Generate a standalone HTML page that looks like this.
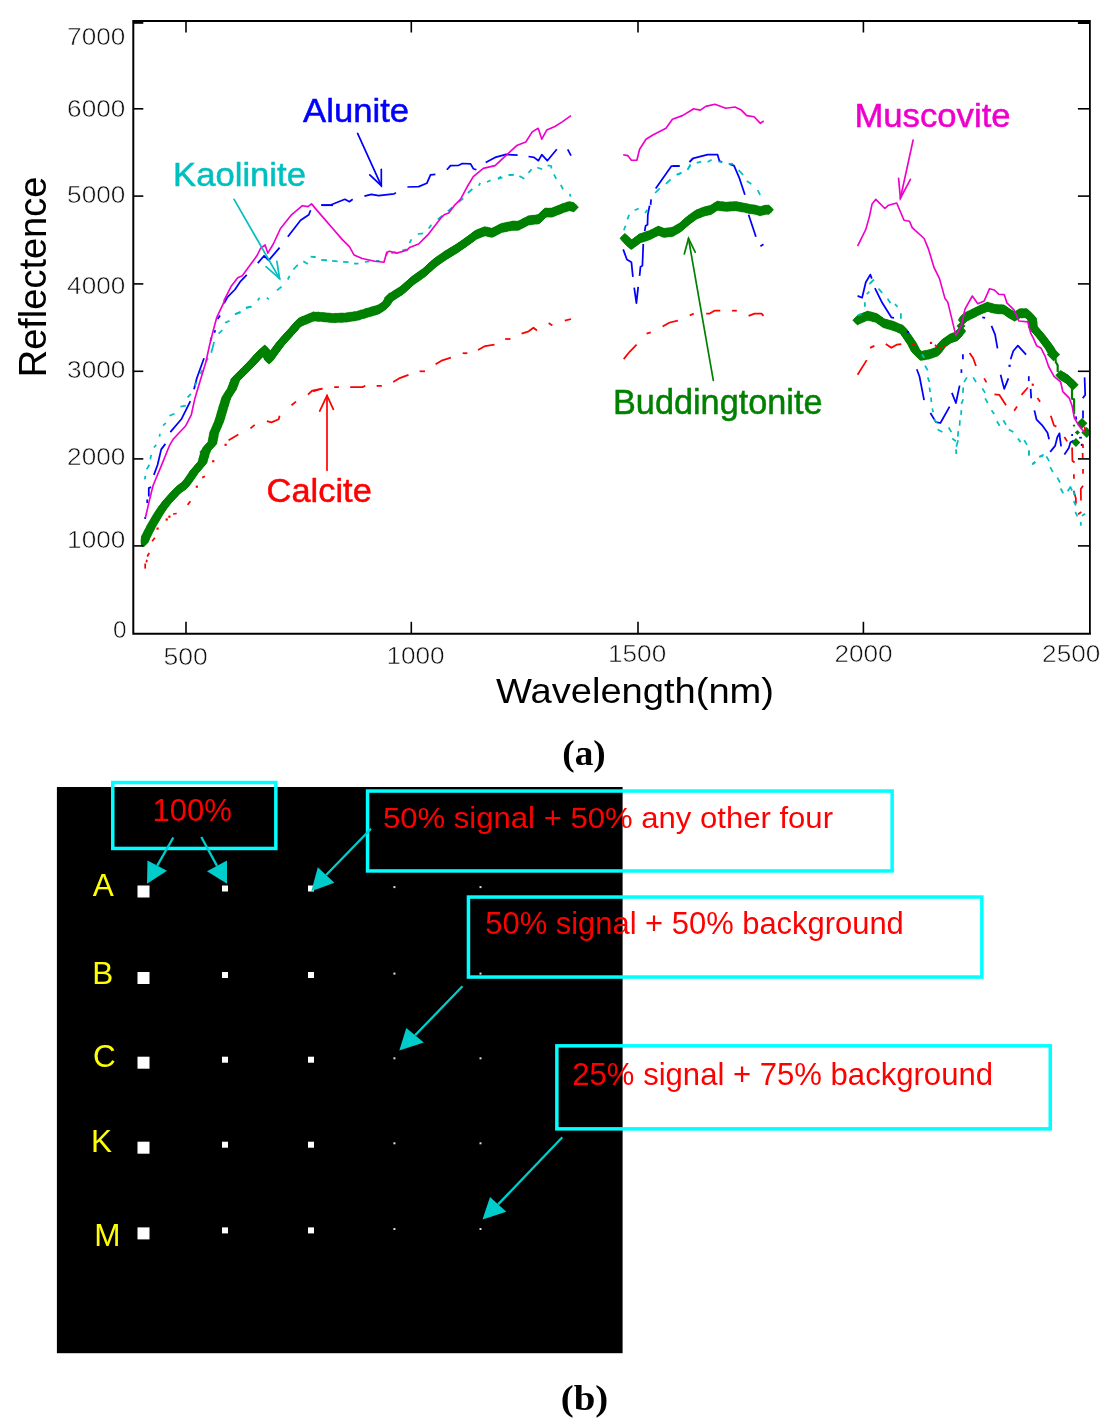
<!DOCTYPE html>
<html lang="en"><head><meta charset="utf-8"><title>Figure</title>
<style>html,body{margin:0;padding:0;background:#fff}svg{display:block}text{font-family:"Liberation Sans",sans-serif}.ser{font-family:"Liberation Serif",serif;font-weight:bold}</style>
</head><body>
<svg width="1103" height="1427" viewBox="0 0 1103 1427">
<rect width="1103" height="1427" fill="#fff"/>
<g font-size="24.4" fill="#111" stroke="#fff" stroke-width="0.55">
<text x="125.3" y="45.2" text-anchor="end" textLength="58.2" lengthAdjust="spacingAndGlyphs">7000</text>
<text x="125.3" y="116.5" text-anchor="end" textLength="58.2" lengthAdjust="spacingAndGlyphs">6000</text>
<text x="125.3" y="202.8" text-anchor="end" textLength="58.2" lengthAdjust="spacingAndGlyphs">5000</text>
<text x="125.3" y="293.6" text-anchor="end" textLength="58.2" lengthAdjust="spacingAndGlyphs">4000</text>
<text x="125.3" y="377.5" text-anchor="end" textLength="58.2" lengthAdjust="spacingAndGlyphs">3000</text>
<text x="125.3" y="465" text-anchor="end" textLength="58.2" lengthAdjust="spacingAndGlyphs">2000</text>
<text x="125.3" y="548" text-anchor="end" textLength="58.2" lengthAdjust="spacingAndGlyphs">1000</text>
<text x="126.6" y="637.6" text-anchor="end">0</text>
<text x="185.6" y="665.3" text-anchor="middle" textLength="44.3" lengthAdjust="spacingAndGlyphs">500</text>
<text x="415.5" y="663.5" text-anchor="middle" textLength="58.2" lengthAdjust="spacingAndGlyphs">1000</text>
<text x="637.1" y="661.6" text-anchor="middle" textLength="58.2" lengthAdjust="spacingAndGlyphs">1500</text>
<text x="863.5" y="661.6" text-anchor="middle" textLength="58.2" lengthAdjust="spacingAndGlyphs">2000</text>
<text x="1071.2" y="661.5" text-anchor="middle" textLength="58.2" lengthAdjust="spacingAndGlyphs">2500</text>
</g>
<text transform="translate(46.4,377.3) rotate(-90)" font-size="38" fill="#000" textLength="200.7" lengthAdjust="spacingAndGlyphs">Reflectence</text>
<text x="496" y="703" font-size="35.7" fill="#000" textLength="278" lengthAdjust="spacingAndGlyphs">Wavelength(nm)</text>
<g fill="none" stroke="#0000ff" stroke-width="1.75" stroke-linejoin="round" stroke-linecap="butt" >
<polyline points="145.2,519 145.2,517"/>
<polyline points="147.2,503 147.2,499.5"/>
<polyline points="148.8,496.4 148.8,488.1 151.1,487.1"/>
<polyline points="153.9,474.9 157.6,464.8 161.2,449.4 165.4,443.9"/>
<polyline points="170.3,432.1 181.3,419.3 190.4,401.1"/>
<polyline points="194,389.3 196.8,378.3 204,358.3"/>
<polyline points="210.4,341 211.7,337.3"/>
<polyline points="214.4,332.8 215.3,330.1"/>
<polyline points="217.7,319.1 220.1,315.5"/>
<polyline points="224.1,303.2 227.7,296.8 235,289.5 240.5,281.3 246.8,274.9"/>
<polyline points="257.8,263.1 264.1,255.8 268.7,260.4 279.6,247.6"/>
<polyline points="287.8,236.7 300.6,220.3 308.8,214.8 310.6,210.3"/>
<polyline points="321.5,205.2 333,205.2"/>
<polyline points="321.2,205.2 331.2,204.8 344.9,199.3 349.4,201.7 352.7,199.3"/>
<polyline points="364.4,196.2 371.3,194.4 378.6,195.7 394.1,193.9 395.9,192.6"/>
<polyline points="407.4,187 418.6,186.6 426.8,183.3 430.5,174.8 435.4,174.4"/>
<polyline points="446.9,169.8 450.5,165.6 458.7,165.3 462.4,163.5 470.6,163.8 473.3,168.7 476.4,169.8"/>
<polyline points="485.7,162.4 495.1,157.4 506.1,154.4 517.6,155.1"/>
<polyline points="528.5,156.5 534,157.4 538.5,160.7 541.8,154.7 547.3,160.7 556.8,149.3"/>
<polyline points="567.7,149.3 571,155.6"/>
<polyline points="623.2,249.4 626.9,259.5 631.4,262.2 632.9,276.8"/>
<polyline points="634.2,287.7 636.4,303.2 638.2,286.8"/>
<polyline points="639.6,275.8 640.5,266.7 642.4,265.8 643.3,244"/>
<polyline points="644.7,231.2 645.6,225.8 647.5,224.8 647.8,214.8 649.6,205.7"/>
<polyline points="650.6,204.8 651.1,199.3"/>
<polyline points="655.7,188.4 671.5,166 679.7,166"/>
<polyline points="689.7,162 693,158.4"/>
<polyline points="673,166 679.4,166"/>
<polyline points="689.4,162 693,158.4 707.6,154.7 717.6,154.7 719.4,161.1 722.2,162"/>
<polyline points="729.5,164.2 734,165.6 739.5,178.4 744.9,194.8"/>
<polyline points="748.6,214.8 755.9,236.7"/>
<polyline points="760.4,246.2 763.5,244.3"/>
<polyline points="857.6,295.9 862.1,297.7 865.8,282.2 870.3,274.6 871.8,278.6"/>
<polyline points="874.9,288.2 882.2,302.8 891.3,317.3 894,317.9"/>
<polyline points="916.8,369.3 919.5,376.5 924.1,400.2"/>
<polyline points="930.4,413 935.9,422.1 940.4,423 949.6,406.6"/>
<polyline points="951.9,392.9 955.9,403 959.6,385.6"/>
<polyline points="961.4,372.9 961.4,369.3"/>
<polyline points="962.9,359.2 962.9,354.3"/>
<polyline points="982.3,317.3 985.1,317.9"/>
<polyline points="991.5,325.9 995.1,334.6 997.5,348.3"/>
<polyline points="1000.6,374.7 1004.2,388.9 1008.4,378.4"/>
<rect x="1008.5" y="364.7" width="2.2" height="2.2" fill="#0000ff" stroke="none"/>
<polyline points="1010.6,359.2 1013.3,351 1017.9,345.6 1026.1,354.7"/>
<polyline points="1028.8,376.2 1028.8,381.1"/>
<polyline points="1030.6,388.9 1031.2,398.4"/>
<polyline points="1034.4,410.4 1036.6,419.7 1042,425.1 1047.5,432.8 1049.1,439.3"/>
<polyline points="1050.2,451.9 1055.1,445.9 1057.3,437.2 1059.5,433.3 1060,438.3 1061.1,446.4"/>
<polyline points="1064.4,454.6 1068.8,448.1 1070.4,442.6 1073.7,440.4"/>
<polyline points="1079.2,437.7 1081.9,437.7"/>
<rect x="1080.8" y="443.8" width="2.2" height="2.2" fill="#0000ff" stroke="none"/>
<polyline points="1083,410.4 1083,418.6"/>
<polyline points="1075.9,416.4 1076.4,419.7"/>
<polyline points="1072.1,433.9 1072.1,436.1"/>
<polyline points="1084.6,377.4 1085.2,394.9 1082.7,398.2"/>
</g>
<defs><marker id="gd" markerWidth="12" markerHeight="12" refX="6" refY="6" markerUnits="userSpaceOnUse" orient="0"><path d="M6,0.7999999999999998 L11.2,6 L6,11.2 L0.7999999999999998,6 Z" fill="#008000"/></marker><clipPath id="gc"><rect x="140.9" y="0" width="948.6" height="546.9"/></clipPath></defs>
<g fill="none" stroke="#008000" stroke-width="7" stroke-linejoin="round" stroke-linecap="round" marker-start="url(#gd)" marker-mid="url(#gd)" marker-end="url(#gd)" clip-path="url(#gc)">
<polyline points="143.4,542.3 143.9,541.3 144.4,540.2 144.9,539.2 145.3,538.1 145.8,537.1 146.3,536 146.8,535 147.4,533.9 148,532.8 148.5,531.6 149.1,530.5 149.7,529.4 150.3,528.3 150.8,527.1 151.4,526 152,524.9 152.6,523.9 153.2,522.9 153.8,521.9 154.4,520.9 155,519.9 155.5,519 156.1,518 156.7,517 157.3,516 157.9,515 158.5,514 159.2,513 159.8,512 160.4,511.1 161.1,510.1 161.8,509.1 162.4,508.1 163.1,507.1 163.9,506.2 164.6,505.2 165.3,504.3 166,503.3 166.8,502.4 167.5,501.4 168.3,500.6 169.1,499.7 169.9,498.9 170.6,498 171.4,497.2 172.2,496.3 173,495.5 173.8,494.7 174.6,493.8 175.4,493 176.2,492.1 177,491.3 177.8,490.4 178.6,489.6 179.5,488.9 180.4,488.3 181.3,487.6 182.3,487 183.2,486.3 184.1,485.7 185,485 185.7,484 186.5,483 187.2,482.1 187.9,481.1 188.7,480.1 189.4,479.1 190.1,478.1 190.8,477 191.5,476 192.2,474.9 192.9,473.9 193.6,472.8 194.3,471.8 195.1,470.9 195.9,469.9 196.8,468.9 197.6,468 198.4,467.1 199.2,466.1 200,465.2 200.9,464.2 201.7,463.2 202.5,462.3 202.8,461.1 203.1,460 203.4,458.8 203.8,457.6 204.1,456.5 204.4,455.3 204.7,454.2 205,453 205.5,451.9 206,450.9 206.6,449.8 207.1,448.8 207.6,447.7 208.5,446.9 209.4,446 210.4,445.2 211.3,444.3 212.2,443.5 212.4,442.3 212.7,441.1 212.9,439.9 213.1,438.7 213.4,437.4 213.6,436.2 213.8,435 214.1,433.8 214.3,432.6 214.8,431.5 215.2,430.5 215.7,429.4 216.2,428.3 216.6,427.2 217.1,426.2 217.5,425.1 218,424 218.5,422.9 218.9,421.9 219.4,420.8 219.7,419.6 220.1,418.4 220.4,417.3 220.8,416.1 221.1,414.9 221.5,413.7 221.8,412.5 222.2,411.3 222.5,410.2 222.9,409 223.2,407.8 223.6,406.6 223.9,405.5 224.3,404.3 224.7,403.1 225,402 225.4,400.8 225.8,399.6 226.1,398.5 226.5,397.3 227.2,396.2 227.9,395.2 228.6,394.1 229.2,393.1 229.9,392.1 230.6,391 231.3,389.9 232,388.9 232.4,387.7 232.8,386.6 233.3,385.4 233.7,384.2 234.1,383.1 234.6,381.9 235,380.8 235.4,379.6 236.2,378.8 237.1,377.9 237.9,377.1 238.7,376.3 239.6,375.4 240.4,374.6 241.2,373.8 242.1,372.9 242.9,372.1 243.8,371.2 244.6,370.4 245.5,369.5 246.3,368.7 247.1,367.9 248,367 248.8,366.2 249.7,365.3 250.5,364.5 251.4,363.6 252.2,362.8 253,361.8 253.9,360.9 254.7,359.9 255.6,359 256.4,358 257.3,357.1 258.1,356.1 258.9,355.3 259.8,354.5 260.6,353.7 261.5,353 262.3,352.2 263.1,351.4 264,350.6 264.8,349.8 265.3,350.9 265.7,351.9 266.2,353 266.7,354.1 267.1,355.1 267.6,356.2 268.1,357.3 268.5,358.3 269,359.4 269.7,358.4 270.4,357.4 271.1,356.4 271.8,355.5 272.5,354.5 273.2,353.5 273.9,352.6 274.6,351.6 275.3,350.7 276,349.7 276.7,348.8 277.4,347.8 278.1,346.9 278.8,345.9 279.5,345 280.2,344 280.9,343.1 281.7,342.2 282.5,341.4 283.2,340.5 284,339.7 284.8,338.8 285.6,338 286.4,337.1 287.1,336.2 287.9,335.4 288.7,334.5 289.5,333.7 290.2,332.8 291,332 291.8,331.1 292.6,330.2 293.3,329.4 294.1,328.5 294.8,327.6 295.6,326.8 296.4,325.9 297.1,325 297.9,324.1 298.6,323.3 299.4,322.4 300.5,321.9 301.6,321.5 302.7,321 303.7,320.6 304.8,320.1 305.9,319.7 307,319.2 308.1,318.8 309.2,318.3 310.2,317.9 311.3,317.4 312.4,316.9 313.5,316.5 314.7,316.6 316,316.6 317.2,316.7 318.5,316.8 319.7,316.9 321,316.9 322.2,317 323.4,317.1 324.6,317.2 325.8,317.4 327,317.5 328.3,317.6 329.5,317.7 330.7,317.9 331.9,318 333.1,318.1 334.3,318 335.5,318 336.7,317.9 337.9,317.9 339.1,317.8 340.2,317.8 341.4,317.7 342.6,317.7 343.8,317.6 345,317.6 346.2,317.5 347.4,317.3 348.6,317.1 349.8,317 351,316.8 352.2,316.6 353.4,316.4 354.6,316.3 355.8,316.1 357,315.9 358.2,315.5 359.4,315.2 360.6,314.8 361.8,314.4 363.1,314.1 364.3,313.7 365.5,313.3 366.7,313 367.9,312.6 369.1,312.2 370.3,311.9 371.5,311.5 372.7,311.2 374,310.8 375.2,310.5 376.4,310.1 377.6,309.8 378.8,309.4 379.7,308.8 380.7,308.1 381.6,307.5 382.5,306.9 383.4,306.3 384.4,305.6 385.3,305 386,304 386.7,302.9 387.4,301.9 388.1,300.8 388.8,299.8 389.5,298.7 390.2,297.7 391.2,297.1 392.2,296.4 393.2,295.8 394.2,295.2 395.2,294.5 396.2,293.9 397.2,293.3 398.2,292.6 399.2,292 400.2,291.4 401.2,290.7 402.2,290.1 403.1,289.3 404,288.5 404.9,287.7 405.8,286.8 406.7,286 407.6,285.2 408.6,284.4 409.5,283.6 410.4,282.8 411.3,281.9 412.2,281.1 413.1,280.3 414.1,279.6 415.1,278.9 416.1,278.2 417.1,277.5 418.1,276.8 419,276.2 420,275.5 421,274.8 422,274.1 423,273.4 424,272.7 424.9,271.9 425.8,271.1 426.7,270.2 427.6,269.4 428.5,268.6 429.4,267.8 430.3,267 431.2,266.2 432.1,265.3 433,264.5 433.9,263.7 434.8,262.9 435.8,262.2 436.8,261.5 437.8,260.8 438.8,260.1 439.8,259.4 440.7,258.8 441.7,258.1 442.7,257.4 443.7,256.7 444.7,256 445.7,255.3 446.7,254.7 447.7,254.1 448.7,253.5 449.7,252.9 450.7,252.3 451.6,251.7 452.6,251.1 453.6,250.5 454.6,249.9 455.6,249.3 456.6,248.7 457.6,248 458.6,247.3 459.6,246.6 460.6,245.9 461.6,245.2 462.5,244.6 463.5,243.9 464.5,243.2 465.5,242.5 466.5,241.8 467.5,241.1 468.5,240.4 469.4,239.7 470.4,238.9 471.4,238.2 472.3,237.5 473.3,236.8 474.3,236 475.2,235.3 476.2,234.6 477.3,234.2 478.4,233.8 479.5,233.4 480.5,232.9 481.6,232.5 482.7,232.1 483.8,231.7 484.9,231.3 486.1,231.6 487.3,231.8 488.4,232.1 489.6,232.3 490.8,232.6 492,232.8 493.1,232.3 494.2,231.7 495.3,231.2 496.4,230.6 497.4,230.1 498.5,229.5 499.6,229 500.7,228.4 501.8,227.9 503,227.7 504.2,227.4 505.4,227.2 506.6,226.9 507.8,226.7 509,226.4 510.2,226.2 511.4,225.9 512.6,225.7 513.7,225.7 514.8,225.7 515.9,225.7 517,225.7 518.1,225.7 519.2,225.2 520.3,224.6 521.4,224.1 522.5,223.5 523.5,223 524.6,222.5 525.7,221.9 526.8,221.4 527.9,220.8 529,220.3 530.2,220.2 531.5,220 532.7,219.9 533.9,219.8 535.1,219.6 536.3,219.5 537.6,219.3 538.8,219.2 539.6,218.4 540.4,217.5 541.2,216.7 542,215.9 542.9,215.1 543.7,214.2 544.5,213.4 545.3,212.6 546.6,212.6 547.9,212.6 549.2,212.6 550.5,212.6 551.8,212.6 552.9,212.2 554,211.7 555.1,211.3 556.2,210.9 557.2,210.4 558.3,210 559.4,209.6 560.5,209.2 561.6,208.7 562.7,208.3 563.8,207.9 564.9,207.6 566,207.2 567,206.8 568.1,206.5 569.2,206.1 570.3,206.4 571.4,206.6 572.5,206.9 573.6,207.2"/>
<polyline points="624.8,238.3 625.6,239.1 626.4,239.9 627.2,240.7 628,241.6 628.9,242.4 629.7,243.2 630.5,244 631.3,244.8 632.3,244.1 633.2,243.4 634.2,242.6 635.2,241.9 636.1,241.2 637.1,240.5 638.1,239.7 639,239 640,238.3 641.1,237.9 642.2,237.6 643.3,237.2 644.4,236.9 645.4,236.5 646.5,236.2 647.6,235.8 648.7,235.5 649.8,235.1 650.9,234.5 652,234 653.1,233.4 654.1,232.9 655.2,232.3 656.3,231.8 657.4,231.2 658.5,230.7 659.6,231.1 660.7,231.6 661.8,232 662.9,232.5 664,232.9 665.2,232.7 666.5,232.6 667.7,232.4 669,232.3 670.2,232.1 671.5,232 672.7,231.8 673.8,231.2 674.9,230.5 676,229.9 677,229.3 678.1,228.7 679.2,228 680.3,227.4 681.2,226.6 682,225.9 682.9,225.1 683.8,224.4 684.6,223.6 685.5,222.8 686.4,222.1 687.3,221.3 688.1,220.6 689,219.8 690,219.1 690.9,218.5 691.9,217.8 692.8,217.1 693.8,216.4 694.7,215.8 695.6,215.1 696.6,214.4 697.7,214 698.8,213.6 699.9,213.2 701,212.8 702,212.3 703.1,211.9 704.2,211.5 705.3,211.1 706.4,210.9 707.5,210.7 708.6,210.4 709.7,210.2 710.8,210 711.9,209.3 713,208.6 714,207.8 715.1,207.1 716.2,206.4 717.3,205.7 718.5,205.9 719.8,206 721,206.2 722.3,206.3 723.5,206.5 724.8,206.6 726,206.8 727.2,206.7 728.3,206.6 729.5,206.5 730.6,206.4 731.8,206.4 733,206.3 734.1,206.2 735.3,206.1 736.5,206.3 737.8,206.5 739,206.7 740.3,207 741.5,207.2 742.8,207.4 744,207.6 745.2,207.9 746.3,208.2 747.5,208.4 748.6,208.7 749.8,209 751,209.1 752.1,209.3 753.3,209.4 754.4,209.6 755.6,209.7 756.7,210.1 757.8,210.4 758.9,210.8 760,211.2 761.2,210.9 762.3,210.6 763.5,210.3 764.6,210 765.8,209.7 767.2,209.7 768.7,209.7"/>
<polyline points="857.6,320.2 858.7,319.6 859.9,319 861,318.5 862.1,317.9 863.2,317.5 864.3,317 865.4,316.6 866.5,316.1 867.6,315.7 868.8,316 870.1,316.3 871.3,316.6 872.6,317 873.8,317.3 875.1,317.6 876.3,317.9 877.2,318.6 878.2,319.2 879.1,319.9 880.1,320.6 881,321.3 882,321.9 882.9,322.6 883.9,323.3 885.1,323.6 886.4,324 887.6,324.3 888.8,324.6 890,325 891.2,325.3 892.5,325.7 893.7,326 894.8,326.5 895.9,326.9 897,327.4 898,327.9 899.1,328.4 900.2,328.9 901.3,329.3 902.4,329.8 903.1,330.8 903.8,331.7 904.4,332.6 905.1,333.6 905.8,334.6 906.4,335.5 907.1,336.4 907.8,337.4 908.4,338.3 909.1,339.3 909.7,340.2 910.3,341.2 910.9,342.1 911.6,343.1 912.2,344 912.8,345.1 913.3,346.2 913.9,347.2 914.4,348.3 915,349.4 915.5,350.5 916.4,351.4 917.3,352.3 918.2,353.2 919.1,354.1 920,355 920.9,355.9 922.1,355.7 923.4,355.4 924.6,355.2 925.9,355 927.1,354.8 928.4,354.5 929.6,354.3 930.7,353.9 931.8,353.5 932.9,353.1 933.9,352.8 935,352.4 936.1,352 937.2,351.6 937.9,350.7 938.6,349.7 939.3,348.8 940,347.8 940.6,346.9 941.3,345.9 942,344.9 942.7,344 943.7,343.3 944.6,342.6 945.5,341.9 946.5,341.2 947.5,340.6 948.4,339.9 949.3,339.2 950.3,338.5 951.4,338.1 952.5,337.8 953.5,337.4 954.6,337 955.7,336.7 956.8,336.3 957.5,335.4 958.2,334.5 958.9,333.6 959.6,332.8 960.3,331.9 961,331"/>
<polyline points="963,320 963.8,318.8 964.5,317.6 965.6,317.1 966.7,316.5 967.8,316 968.9,315.5 970,314.9 971.1,314.4 972.2,313.8 973.3,313.3 974.4,312.8 975.5,312.2 976.5,311.6 977.6,311.1 978.7,310.6 979.8,310 980.9,309.5 982,309.1 983.1,308.6 984.1,308.2 985.2,307.7 986.3,307.3 987.4,306.8 988.5,307.1 989.6,307.4 990.7,307.7 991.7,308 992.8,308.3 993.9,308.6 995,308.9 996.2,309 997.5,309.1 998.7,309.2 1000,309.2 1001.2,309.3 1002.5,309.4 1003.7,309.5 1004.6,310.1 1005.5,310.8 1006.4,311.4 1007.3,312 1008.2,312.7 1009.1,313.3 1010.2,314 1011.3,314.6 1012.4,315.3 1013.5,315.9 1014.6,316.6 1015.7,315.9 1016.8,315.3 1017.8,314.6 1018.9,314 1020,313.3 1021.3,313.3 1022.6,313.3 1024,313.3 1025.3,313.3 1026.6,313.3 1027.5,314.2 1028.4,315.1 1029.3,316 1030.2,316.9 1031.1,317.8 1032,318.7 1032.2,319.9 1032.3,321.2 1032.5,322.4 1032.6,323.7 1032.8,324.9 1032.9,326.2 1033.1,327.4 1033.9,328.3 1034.6,329.1 1035.4,330 1036.1,330.9 1036.9,331.8 1037.7,332.6 1038.4,333.5 1039.2,334.4 1039.9,335.2 1040.7,336.1 1041.4,337.1 1042.2,338.1 1042.9,339 1043.7,340 1044.4,341 1045.2,342 1045.9,343 1046.7,344 1047.4,344.9 1048.2,345.9 1048.9,346.9 1049.6,348 1050.2,349.1 1050.9,350.2 1051.5,351.3 1052.2,352.4 1052.8,353.5 1053.5,354.6"/>
<polyline points="1060.5,375.2 1061.5,375.8 1062.5,376.4 1063.5,377 1064.4,377.5 1065.4,378.1 1066.4,378.7 1067.4,379.3 1068.3,380.2 1069.2,381.1 1070.1,382 1071,382.9 1071.9,383.8 1072.8,384.7"/>
</g>
<g fill="none" stroke="#008000" stroke-width="2.2" stroke-linejoin="round">
<polyline points="1055.3,357 1055.8,362 1057.7,365.4 1057.7,372"/>
<polyline points="1072,388 1072,398.6 1074.1,399.4 1074.1,414"/>
</g>
<g fill="#008000" clip-path="url(#gc)">
<path d="M199.4,452 L205,446.4 L210.6,452 L205,457.6 Z"/>
<path d="M383.9,298 L389.5,292.4 L395.1,298 L389.5,303.6 Z"/>
<path d="M1046.9,354.6 L1053.5,348.0 L1060.1,354.6 L1053.5,361.20000000000005 Z"/>
<path d="M1067.0,384.7 L1072.8,378.9 L1078.6,384.7 L1072.8,390.5 Z"/>
<path d="M1076.6,423.3 L1082,417.90000000000003 L1087.4,423.3 L1082,428.7 Z"/>
<path d="M1081.3,432.5 L1086.7,427.1 L1092.1000000000001,432.5 L1086.7,437.9 Z"/>
<path d="M1074.8000000000002,432.5 L1077.4,429.9 L1080.0,432.5 L1077.4,435.1 Z"/>
<path d="M1071.5,442.5 L1075.9,438.1 L1080.3000000000002,442.5 L1075.9,446.9 Z"/>
<path d="M1072.6,425.6 L1074,424.20000000000005 L1075.4,425.6 L1074,427.0 Z"/>
<path d="M956.5,326 L961,321.5 L965.5,326 L961,330.5 Z"/>
</g>
<rect x="906.8" y="331" width="2.2" height="2.2" fill="#0000ff"/>
<g fill="none" stroke="#ff0000" stroke-width="1.75" stroke-linejoin="round" stroke-linecap="butt" >
<polyline points="152.1,541.3 154.9,537.7"/>
<rect x="156.5" y="527.5" width="2.2" height="2.2" fill="#ff0000" stroke="none"/>
<rect x="165.6" y="518.4" width="2.2" height="2.2" fill="#ff0000" stroke="none"/>
<rect x="168.3" y="515.6" width="2.2" height="2.2" fill="#ff0000" stroke="none"/>
<polyline points="173.1,514 176.7,513.5"/>
<polyline points="187.6,504.9 190.4,501.3"/>
<rect x="195.7" y="485.6" width="2.2" height="2.2" fill="#ff0000" stroke="none"/>
<polyline points="202.2,477.6 204.9,476.3"/>
<rect x="212.1" y="460.1" width="2.2" height="2.2" fill="#ff0000" stroke="none"/>
<rect x="224.5" y="443.7" width="2.2" height="2.2" fill="#ff0000" stroke="none"/>
<polyline points="228.6,440.3 238.3,434.4"/>
<polyline points="250.5,428.4 254.7,424.8"/>
<polyline points="266.9,421.1 271.4,422.4 278.7,419.3 279.6,415.7"/>
<polyline points="291.5,405.3 296,401.6"/>
<polyline points="307.9,394.7 312.4,390.5 322.4,388.7"/>
<polyline points="145.2,568.6 145.2,563.5"/>
<polyline points="146.3,562.3 147,559.8"/>
<polyline points="147.2,556.5 149.3,553"/>
<polyline points="313,391.4 322.4,388.5"/>
<polyline points="334.2,387.1 338.9,387.1"/>
<polyline points="350.2,387.1 362.5,387.1 365.3,385.7"/>
<polyline points="376.6,385.9 381.8,385.9"/>
<polyline points="393.2,381.9 399,378.4 408.5,374.9"/>
<polyline points="419.6,371.3 425,371.3"/>
<polyline points="435.6,364.3 441.5,360.7 450.9,357.7"/>
<polyline points="462.7,353.2 467.4,353.2"/>
<polyline points="478,350.1 485.1,346.1 494.5,344.7"/>
<polyline points="505.1,339 510.5,339"/>
<polyline points="521.6,333.6 528.7,331.3 533.4,327.7 537,330.5"/>
<polyline points="548.7,323 552.3,325.4"/>
<polyline points="564.8,320.6 571.1,319"/>
<polyline points="623.7,359.1 629.6,351.8 636.6,344.7"/>
<polyline points="646.6,333.6 650.8,332.4"/>
<polyline points="662.6,326.5 669.7,322.5 677.9,320.6"/>
<polyline points="689.7,315.5 693.7,313.6"/>
<polyline points="706.2,313.6 709.7,313.6 714.4,310.7 720.3,310.7"/>
<polyline points="732.1,310.7 736.8,310.7"/>
<polyline points="748.6,315.9 754.5,313.6 761.6,313.6 763.5,315.9"/>
<polyline points="857.6,374.7 866.7,360.1"/>
<polyline points="870,347.9 874.3,345.9"/>
<polyline points="885.8,344.1 891.3,347.8 896.7,344.7 901.3,344.1"/>
<polyline points="912.2,344.3 915.9,344.3"/>
<rect x="929.9" y="341.8" width="2.2" height="2.2" fill="#ff0000" stroke="none"/>
<polyline points="935,344.7 936.8,347"/>
<rect x="939.4" y="347.2" width="2.2" height="2.2" fill="#ff0000" stroke="none"/>
<rect x="943.0" y="345.4" width="2.2" height="2.2" fill="#ff0000" stroke="none"/>
<polyline points="969.6,352.9 973.2,358.3 976,366"/>
<polyline points="984.2,378.4 986.4,382.4"/>
<polyline points="994.5,394.4 999.3,394.8 1006,405.3"/>
<polyline points="1014.2,410.8 1017,406.6"/>
<polyline points="1021.5,394.8 1027.9,387.5"/>
<rect x="1031.7" y="383.6" width="2.2" height="2.2" fill="#ff0000" stroke="none"/>
<polyline points="1037.5,398 1040.1,401.7"/>
<polyline points="1050.8,415.7 1054,425.5 1056.4,426.6"/>
<polyline points="1064.4,437 1067.2,441.4"/>
<polyline points="1084.6,426.6 1085.2,432.1"/>
<polyline points="1072.1,447.5 1072.4,460.7 1074.6,462.5"/>
<polyline points="1083,444.3 1083,448.1"/>
<polyline points="1082.7,453 1082.7,457.9"/>
<polyline points="1083,468.9 1083,473.8"/>
<polyline points="1073.9,474.3 1073.9,478.7"/>
<polyline points="1083,485.8 1080.8,489.1 1081,500.5"/>
<polyline points="1073.7,490.7 1075.9,498.4 1075.9,503.8"/>
<polyline points="1078.1,514.2 1081.4,512"/>
</g>
<g fill="none" stroke="#00bfbf" stroke-width="1.75" stroke-linejoin="round" stroke-linecap="butt" >
<polyline points="144.8,479.4 145.4,475.8"/>
<polyline points="146.7,469.4 149.4,464.8"/>
<polyline points="150.3,459.4 151.2,454.8"/>
<polyline points="153.9,447.5 156.3,444.8"/>
<polyline points="159.4,436.6 160,433.9"/>
<polyline points="163.1,425.7 165.8,423"/>
<polyline points="169.4,415.7 174.5,413.8"/>
<polyline points="180.4,406.6 185.8,405.6"/>
<polyline points="187.6,397.4 190.9,393.8"/>
<polyline points="194.9,385.6 196.8,382"/>
<polyline points="200.4,373.8 202.2,370.1"/>
<polyline points="205.9,361.9 208,358.3"/>
<polyline points="211.3,352.8 214.1,341.9"/>
<polyline points="218.6,333.7 222.3,330.1"/>
<polyline points="225,322.8 229.5,320.9"/>
<polyline points="235,314.2 240.5,311.8"/>
<polyline points="245.9,308.2 251.4,306.4"/>
<polyline points="235,314.1 240.5,312.3"/>
<polyline points="245.9,307.7 251.4,306.8"/>
<polyline points="257.8,300.4 259.6,297.7"/>
<polyline points="266.9,297.7 268.7,299.5"/>
<polyline points="276.9,290.4 281.5,286.8"/>
<polyline points="287.8,279.5 289.6,275.8"/>
<polyline points="293.3,269.5 297.8,264.9"/>
<polyline points="303.3,261.3 307.9,264"/>
<polyline points="310.6,256.7 315.1,257.1"/>
<polyline points="321.5,260 327,260.4"/>
<polyline points="313,256.7 315.7,257.1"/>
<polyline points="321.2,260 326.7,260.4"/>
<polyline points="332.1,260.9 337.6,261.3"/>
<polyline points="343.1,261.8 348.5,262.2"/>
<polyline points="354,263.6 358.5,263.6"/>
<polyline points="364.9,261.8 369.5,261.3"/>
<polyline points="375.8,260.9 379.5,260.9"/>
<polyline points="385.9,255.8 387.7,252.5"/>
<polyline points="391.3,253.1 395.9,252.2"/>
<polyline points="402.3,250.3 406.8,249.4"/>
<polyline points="409.5,243.1 411.4,239.4"/>
<polyline points="417.7,234 423.2,233.4"/>
<polyline points="428.7,228.5 431.4,224.8"/>
<polyline points="437.8,219.4 442.3,215.7"/>
<polyline points="447.8,211.2 452.3,207.5"/>
<polyline points="458.7,202.1 463.3,198.4"/>
<polyline points="467.8,193 472.4,189"/>
<polyline points="478.8,185.7 480.2,183"/>
<polyline points="487,182 490.6,180.2"/>
<polyline points="497.9,178.9 502.4,177.5"/>
<polyline points="508.8,175.1 513,174.8"/>
<polyline points="498.1,178.4 501.2,176.6"/>
<polyline points="508.5,174.8 513.9,174.8"/>
<polyline points="519.4,176 524.3,178.8"/>
<polyline points="528.5,172.9 531.6,169.3"/>
<polyline points="537.3,167.5 542.2,169.3"/>
<polyline points="547.6,165.3 551.3,166 551.3,168.4"/>
<polyline points="554,174.4 556.2,178.8"/>
<polyline points="560.8,184.8 563.1,189.3"/>
<polyline points="569.9,193.9 570.4,196.6"/>
<polyline points="623.8,230.3 625.6,225.8"/>
<polyline points="627.4,219.4 629.2,214.8"/>
<polyline points="634.7,210.3 638.7,208.5"/>
<polyline points="645.1,213 647.5,209.7"/>
<polyline points="655.1,193 659.7,188.4"/>
<polyline points="666,183.9 670.6,179.3"/>
<polyline points="677,174.8 681.5,172.9"/>
<polyline points="687.9,169.3 690.6,164.7"/>
<polyline points="676.6,174.8 681.2,172.9"/>
<polyline points="687.6,169.8 690.3,164.7"/>
<polyline points="696.7,162.9 701.2,161.6"/>
<polyline points="707.6,162 711.6,159.8"/>
<polyline points="718.5,161.5 722.2,162.4"/>
<polyline points="728.6,163.8 733.1,163.8"/>
<polyline points="738.6,170.2 743.1,174.8"/>
<polyline points="746.8,181.1 751.3,183.9"/>
<polyline points="757.7,190.2 760.1,194.8"/>
<polyline points="864.9,306.8 864.9,302.3"/>
<polyline points="866.7,294.1 869.4,291.7"/>
<polyline points="869.4,284 874,279.5"/>
<polyline points="878.5,288.6 882.2,292.8"/>
<polyline points="887.6,298.6 890.4,303.2"/>
<polyline points="894.9,304.1 897.6,306.8"/>
<polyline points="900.9,313.2 900.9,318.7"/>
<polyline points="857.6,315.5 861.2,313.7"/>
<polyline points="925,365.6 927.7,370.2"/>
<polyline points="927.7,377.4 929.5,382"/>
<polyline points="929.5,387.5 930.1,392"/>
<polyline points="931,397.5 931.3,402"/>
<polyline points="932.3,408.4 933.2,412.1"/>
<polyline points="934.1,419.3 936.8,423"/>
<polyline points="937.7,429.4 942.3,432.1"/>
<polyline points="948.6,427.5 951.4,432.1"/>
<polyline points="952.3,438.5 955.9,441.2"/>
<polyline points="958.1,440.3 956.3,446.7"/>
<polyline points="955.9,449.4 956.3,454"/>
<polyline points="957.8,436.6 958.3,431.2"/>
<polyline points="959.6,425.7 959.9,420.3"/>
<polyline points="961,414.8 961.4,410.2"/>
<polyline points="961.4,403.9 963.2,399.3"/>
<polyline points="962.9,392.9 963.2,387.5"/>
<polyline points="964.1,382 966.9,377.4"/>
<polyline points="973.2,377.4 976,382"/>
<polyline points="982.3,388.4 985.1,392.9"/>
<polyline points="985.1,398.4 987.8,403"/>
<polyline points="991.5,410.2 994.2,413.9"/>
<polyline points="996.9,421.2 999.6,425.7"/>
<polyline points="1003.3,420.3 1006,424.8"/>
<polyline points="1008.8,429.4 1013.3,432.1"/>
<polyline points="1017.9,438.5 1020.6,442.1"/>
<polyline points="1024.2,440.3 1027,444.8"/>
<polyline points="1028.8,450.3 1029.2,454.9"/>
<polyline points="1032.4,464 1035.2,461.8"/>
<polyline points="1039.4,456.7 1043,455.8"/>
<polyline points="1028.9,450.8 1028.9,455.7"/>
<polyline points="1032.2,464.5 1035.5,462.1"/>
<polyline points="1039.3,457 1043.7,454.6"/>
<polyline points="1046.4,456.3 1049.1,461.2"/>
<polyline points="1050.2,467.2 1052.9,472.1"/>
<polyline points="1057.3,477.6 1060,482.5"/>
<polyline points="1060.6,488.5 1063.3,493.4"/>
<polyline points="1067.7,491.3 1070.4,486.9 1072.1,490.7"/>
<polyline points="1073.7,491.8 1074.3,495.1"/>
<polyline points="1073.7,501.1 1075.9,505.5"/>
<polyline points="1075.3,512 1077.5,516.4"/>
<polyline points="1081.9,515.8 1085.2,513.7"/>
<polyline points="1080.8,521.9 1080.8,525.7"/>
<polyline points="922,354.3 924.2,358.1"/>
</g>
<g fill="none" stroke="#ee00cc" stroke-width="1.65" stroke-linejoin="round" stroke-linecap="butt" >
<polyline points="145.4,517.7 149.4,500.4 153,485.8 162.1,463.9 169.4,445.7 173.1,439.3 185.8,425.7 191.3,414.8 194.9,398.4 200.4,380.1 205.9,361.9 209.5,345.5 213.1,331 216.8,317.3 224.1,301.8 224.1,300.4 231.4,285.9 237.7,277.7 242.3,275.8 249.6,265.8 256.9,255.8 260.5,248.5 265.1,244.9 267.8,253.1 273.3,244 280.5,228.5 291.5,214.8 302.4,205.7 307.9,206.6 311.5,203.9 322.4,216.6 331.2,226.7 342.1,239.4 349.4,246.7 354,254.9 362.2,258.5 374.9,261.3 384,262.2 386.8,252.2 389.5,251.3 396.8,253.1 406.8,250.3 409.5,247.6 418.6,244 427.8,234.9 440.5,218.5 444.1,214.8 448.7,213 454.2,205.7 460.5,199.3 467.8,185.7 473.3,176.6 483.3,168.4 495.1,165.6 503.9,157.4 516.7,145.6 525.8,142 532.2,131.9 538.2,128.3 541.8,139.2 546.7,130.1 554.9,126.5 562.2,121.9 571,115.6"/>
<polyline points="623.2,154.7 627.8,155.6 631.4,160.2 636.9,160.2 639.6,149.3 646,139.2 653.3,134.7 666,128.3 672.4,119.2 682.4,115.6 693,109.2 693,108.8 700.3,110.1 705.8,106.4 714.9,104.3 725.8,108.3 734.9,107 741.3,110.1 746.8,115.6 754.1,116.8 760.4,123.4 763.7,121"/>
<polyline points="857.6,246.2 865.8,229.4 869.4,216.6 872.1,203.9 875.8,199.3 884.9,208.5 888.5,205.2 896.7,203 904,220.3 909.5,221.2 912.2,227.6 924.1,238.5 928.6,249.4 934.1,267.7 939.5,278.6 945,298.6 947.7,301.9 955.9,335.6 961.4,325.5 965,309.1 972.3,296 977.8,303.7 984.2,300.9 989.6,288.7 994.2,290 998.7,294.2 1004.2,294.6 1006.9,302.8 1014.2,310.1 1018.8,321 1027.9,321.9 1030.6,332.8 1033.3,338.1 1036.6,345.7 1040.9,347.9 1045.3,356.7 1048.6,366.5 1054,376.3 1060.6,381.8 1062.8,391.6 1069.3,398.2 1072.1,405.8 1074.3,417.9 1078.1,424.4 1081.4,428.8 1084.6,432.1"/>
</g>
<g fill="none" stroke="#000" stroke-width="2">
<path d="M133.3,20.0 V633.8 H1090.9"/>
<path d="M133.3,21.0 H1089.9 V633.8" stroke-width="1.8"/>
</g>
<g stroke="#000" stroke-width="1.6" fill="none">
<path d="M133.3,22.6 h10" stroke-width="2.4"/>
<path d="M1089.9,22.8 h-12" stroke-width="2.4"/>
<path d="M133.3,108.8 h10"/>
<path d="M1089.9,108.8 h-12"/>
<path d="M133.3,196.1 h10"/>
<path d="M1089.9,196.1 h-12"/>
<path d="M133.3,283.9 h10"/>
<path d="M1089.9,283.9 h-12"/>
<path d="M133.3,371.3 h10"/>
<path d="M1089.9,371.3 h-12"/>
<path d="M133.3,458.9 h10"/>
<path d="M1089.9,458.9 h-12"/>
<path d="M133.3,545.9 h10"/>
<path d="M1089.9,545.9 h-12"/>
<path d="M186,633.8 v-12"/>
<path d="M186,21.0 v11.5"/>
<path d="M411.3,633.8 v-12"/>
<path d="M411.3,21.0 v11.5"/>
<path d="M638,633.8 v-12"/>
<path d="M638,21.0 v11.5"/>
<path d="M863.4,633.8 v-12"/>
<path d="M863.4,21.0 v11.5"/>
</g>
<g fill="none" stroke="#0000ff" stroke-width="1.7" stroke-linecap="round"><path d="M357.6,133.4 L381.3,185.7"/><path d="M369.8,174.8 L381.3,185.7 L381.3,169.3"/></g>
<g fill="none" stroke="#00bfbf" stroke-width="1.7" stroke-linecap="round"><path d="M234.1,199.3 L279.6,278.6"/><path d="M266,266.7 L279.6,278.6 L276.9,261.3"/></g>
<g fill="none" stroke="#ee00cc" stroke-width="1.7" stroke-linecap="round"><path d="M913.1,140.1 L900.4,198.4"/><path d="M898.6,178.4 L900.4,198.4 L910.4,179.3"/></g>
<g fill="none" stroke="#008000" stroke-width="1.7" stroke-linecap="round"><path d="M713.3,380.3 L688.5,238.5"/><path d="M684.3,254 L688.5,238.5 L695.2,252.2"/></g>
<g fill="none" stroke="#ff0000" stroke-width="1.7" stroke-linecap="round"><path d="M327,470.3 L327,395.6"/><path d="M319.7,411.1 L327,395.6 L333.4,409.3"/></g>
<text x="303.1" y="121.9" font-size="34" fill="#0000ff" stroke="#0000ff" stroke-width="0.5" textLength="106" lengthAdjust="spacingAndGlyphs">Alunite</text>
<text x="173.1" y="185.7" font-size="33" fill="#00bfbf" stroke="#00bfbf" stroke-width="0.5" textLength="132.8" lengthAdjust="spacingAndGlyphs">Kaolinite</text>
<text x="854.4" y="127.4" font-size="34" fill="#ee00cc" stroke="#ee00cc" stroke-width="0.5" textLength="156.2" lengthAdjust="spacingAndGlyphs">Muscovite</text>
<text x="613" y="414.4" font-size="35" fill="#008000" stroke="#008000" stroke-width="0.5" textLength="209.5" lengthAdjust="spacingAndGlyphs">Buddingtonite</text>
<text x="266.6" y="502.2" font-size="34" fill="#ff0000" stroke="#ff0000" stroke-width="0.5" textLength="105.2" lengthAdjust="spacingAndGlyphs">Calcite</text>
<text class="ser" x="562.3" y="765.2" font-size="35" fill="#000" textLength="43.5" lengthAdjust="spacingAndGlyphs">(a)</text>
<text class="ser" x="560.8" y="1409.7" font-size="35" fill="#000" textLength="47.5" lengthAdjust="spacingAndGlyphs">(b)</text>
<rect x="56.9" y="787" width="565.7" height="566.2" fill="#000"/>
<rect x="112.75" y="782.55" width="163.10000000000002" height="65.90000000000009" fill="none" stroke="#00ffff" stroke-width="3.5"/>
<rect x="367.55" y="791.05" width="524.5999999999999" height="79.90000000000009" fill="none" stroke="#00ffff" stroke-width="3.5"/>
<rect x="468.45" y="897.05" width="513.4000000000001" height="80.0" fill="none" stroke="#00ffff" stroke-width="3.5"/>
<rect x="556.85" y="1045.85" width="493.4" height="83.0" fill="none" stroke="#00ffff" stroke-width="3.5"/>
<g fill="#fff">
<rect x="137.5" y="885.5" width="12" height="12"/>
<rect x="222" y="885.5" width="6" height="6"/>
<rect x="308" y="885.5" width="6" height="6"/>
<rect x="393.4" y="886.1" width="2" height="2" fill="#ddd"/>
<rect x="479.5" y="886.1" width="2" height="2" fill="#ddd"/>
<rect x="137.5" y="972" width="12" height="12"/>
<rect x="222" y="972" width="6" height="6"/>
<rect x="308" y="972" width="6" height="6"/>
<rect x="393.4" y="972.6" width="2" height="2" fill="#ddd"/>
<rect x="479.5" y="972.6" width="2" height="2" fill="#ddd"/>
<rect x="137.5" y="1056.7" width="12" height="12"/>
<rect x="222" y="1056.7" width="6" height="6"/>
<rect x="308" y="1056.7" width="6" height="6"/>
<rect x="393.4" y="1057.3" width="2" height="2" fill="#ddd"/>
<rect x="479.5" y="1057.3" width="2" height="2" fill="#ddd"/>
<rect x="137.5" y="1141.7" width="12" height="12"/>
<rect x="222" y="1141.7" width="6" height="6"/>
<rect x="308" y="1141.7" width="6" height="6"/>
<rect x="393.4" y="1142.3" width="2" height="2" fill="#ddd"/>
<rect x="479.5" y="1142.3" width="2" height="2" fill="#ddd"/>
<rect x="137.5" y="1227.4" width="12" height="12"/>
<rect x="222" y="1227.4" width="6" height="6"/>
<rect x="308" y="1227.4" width="6" height="6"/>
<rect x="393.4" y="1228.0" width="2" height="2" fill="#ddd"/>
<rect x="479.5" y="1228.0" width="2" height="2" fill="#ddd"/>
</g>
<g font-size="31.5" fill="#ffff00">
<text x="92.8" y="896.2">A</text>
<text x="92.3" y="984.2">B</text>
<text x="93" y="1066.6">C</text>
<text x="91" y="1152">K</text>
<text x="94.3" y="1245.5">M</text>
</g>
<g font-size="30.5" fill="#ff0000">
<text x="152.5" y="820.8" textLength="79.5" lengthAdjust="spacingAndGlyphs">100%</text>
<text x="383" y="827.8" font-size="29.7" textLength="450" lengthAdjust="spacingAndGlyphs">50% signal + 50% any other four</text>
<text x="485.3" y="934" textLength="418.5" lengthAdjust="spacingAndGlyphs">50% signal + 50% background</text>
<text x="572.3" y="1084.6" textLength="420.7" lengthAdjust="spacingAndGlyphs">25% signal + 75% background</text>
</g>
<path d="M173.3,837.5 L157.25,865.65" stroke="#00cccc" stroke-width="2.3" fill="none"/>
<path d="M147,883.8 L147.5,860.5 L167,870.8 Z" fill="#00cccc"/>
<path d="M201.3,837 L217.0,865.9" stroke="#00cccc" stroke-width="2.3" fill="none"/>
<path d="M227,883.8 L207,871.3 L227,860.5 Z" fill="#00cccc"/>
<path d="M371,828.8 L326.1,875.05" stroke="#00cccc" stroke-width="2.3" fill="none"/>
<path d="M311.3,891.3 L317.8,867.3 L334.4,882.8 Z" fill="#00cccc"/>
<path d="M462.5,986.3 L415.05,1035.25" stroke="#00cccc" stroke-width="2.3" fill="none"/>
<path d="M399.3,1050.5 L406.3,1028 L423.8,1042.5 Z" fill="#00cccc"/>
<path d="M562.3,1137.2 L498.15,1204.4" stroke="#00cccc" stroke-width="2.3" fill="none"/>
<path d="M482.5,1219.5 L490,1197 L506.3,1211.8 Z" fill="#00cccc"/>
</svg></body></html>
